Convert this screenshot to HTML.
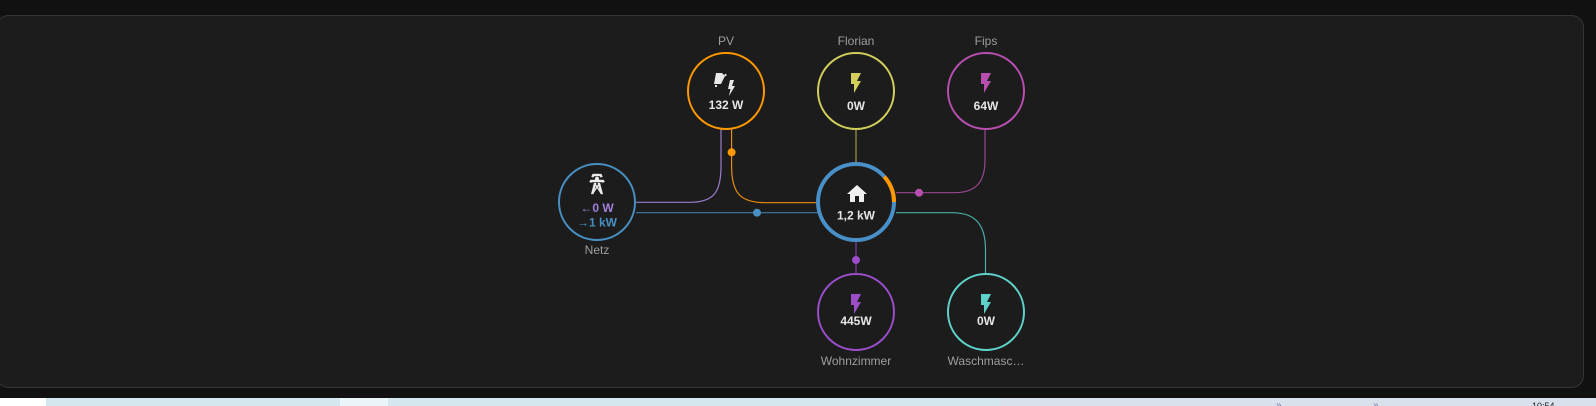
<!DOCTYPE html>
<html>
<head>
<meta charset="utf-8">
<style>
  html,body{margin:0;padding:0;background:#111111;}
  body{width:1596px;height:406px;overflow:hidden;}
  svg{display:block;}
  text{font-family:"Liberation Sans","DejaVu Sans",sans-serif;}
</style>
</head>
<body>
<svg width="1596" height="406" viewBox="0 0 1596 406" xmlns="http://www.w3.org/2000/svg">
  <rect x="0" y="0" width="1596" height="406" fill="#111111"/>
  <!-- card -->
  <rect x="-3.5" y="15.5" width="1587" height="372" rx="12" ry="12" fill="#1c1c1c" stroke="#353535" stroke-width="1"/>

  <!-- bottom strip -->
  <rect x="0" y="398" width="1596" height="8" fill="#d5e7ee"/>
  <rect x="0" y="398" width="46" height="8" fill="#ffffff"/>
  <rect x="340" y="398" width="48" height="8" fill="#eaf5f9"/>
  <rect x="1000" y="398" width="596" height="8" fill="#d9e2ec"/>
  <text x="1276" y="408" font-size="10" fill="#6a6fb0">»</text>
  <text x="1373" y="408" font-size="10" fill="#6a6fb0">»</text>
  <text x="1532" y="409" font-size="9" fill="#222">10:54</text>

  <!-- connector lines -->
  <g fill="none" stroke-width="1.2">
    <!-- PV -> grid (purple) -->
    <path d="M636 202.3 H690 C714 202.3 721 192 721 166 V129" stroke="#9a7ccb"/>
    <!-- PV -> home (orange) -->
    <path d="M731.6 129 V166 C731.6 193 740 202.7 766 202.7 H818" stroke="#e88d0b"/>
    <!-- grid -> home (blue) -->
    <path d="M636 212.7 H818" stroke="#3f7aa5"/>
    <!-- home -> Florian -->
    <path d="M856 129 V162" stroke="#9d9a48"/>
    <!-- home -> Fips -->
    <path d="M896 192.7 H954 C977 192.7 985 181 985 160 V129" stroke="#97468f"/>
    <!-- home -> Waschmasc -->
    <path d="M896 212.7 H952 C976 212.7 985.5 225 985.5 250 V273" stroke="#4aaea6"/>
    <!-- home -> Wohnzimmer -->
    <path d="M856 242 V273" stroke="#7a429d"/>
  </g>

  <!-- flow dots -->
  <circle cx="731.6" cy="152.3" r="4" fill="#ff9800"/>
  <circle cx="757" cy="212.7" r="4" fill="#488fc2"/>
  <circle cx="919" cy="192.7" r="4" fill="#b84fb0"/>
  <circle cx="856" cy="260" r="4" fill="#9b4dca"/>

  <!-- nodes -->
  <g fill="#1c1c1c" stroke-width="2">
    <circle cx="597" cy="202" r="38" stroke="#488fc2"/>
    <circle cx="726" cy="91" r="38" stroke="#ff9800"/>
    <circle cx="856" cy="91" r="38" stroke="#d3cf5a"/>
    <circle cx="986" cy="91" r="38" stroke="#b84fb0"/>
    <circle cx="856" cy="312" r="38" stroke="#9b4dca"/>
    <circle cx="986" cy="312" r="38" stroke="#5ed2c8"/>
  </g>
  <!-- home ring -->
  <circle cx="856" cy="202" r="38" fill="#1c1c1c" stroke="#4a90c8" stroke-width="4"/>
  <path d="M884.2 176.6 A38 38 0 0 1 894 202" fill="none" stroke="#ff9800" stroke-width="4"/>

  <!-- icons -->
  <!-- grid tower -->
  <g transform="translate(585,172)" fill="#ececec" stroke="#ececec" stroke-width="0.4">
    <path d="M8.28,5.45L6.5,4.55L7.76,2H16.23L17.5,4.55L15.72,5.44L15,4H9L8.28,5.45M18.62,8H14.09L13.3,5H10.69L9.91,8H5.38L4.5,9.79L6.28,10.69L6.62,10H17.38L17.72,10.69L19.5,9.79L18.62,8M17.77,22H15.7L15.46,21.1L12,15.9L8.53,21.1L8.3,22H6.23L9.12,11H11.19L10.83,12.35L12,14.1L13.16,12.35L12.81,11H14.88L17.77,22M11.4,15L10.5,13.65L9.32,18.13L11.4,15M14.68,18.12L13.5,13.64L12.6,15L14.68,18.12Z"/>
  </g>
  <!-- PV icon -->
  <g fill="#e8e8e8">
    <polygon points="716,73 722,73 725,76 721,84 714,84"/>
    <rect x="724.5" y="74" width="2" height="2" transform="rotate(45 725.5 75)"/>
    <rect x="715" y="85" width="2" height="2"/>
    <polygon points="730,80 734,80 732,86 735,86 729,96 730.5,89 728,89"/>
  </g>
  <!-- home icon -->
  <g transform="translate(845,182)" fill="#f0f0f0">
    <path d="M10,20V14H14V20H19V12H22L12,3L2,12H5V20H10Z"/>
  </g>
  <!-- bolts -->
  <g transform="translate(844,71)" fill="#d3cf5a"><path d="M7,2V13H10V22L17,10H13L17,2H7Z"/></g>
  <g transform="translate(974,71)" fill="#b84fb0"><path d="M7,2V13H10V22L17,10H13L17,2H7Z"/></g>
  <g transform="translate(844,292)" fill="#9b4dca"><path d="M7,2V13H10V22L17,10H13L17,2H7Z"/></g>
  <g transform="translate(974,292)" fill="#5ed2c8"><path d="M7,2V13H10V22L17,10H13L17,2H7Z"/></g>

  <!-- values -->
  <g font-size="12" font-weight="bold" fill="#e6e6e6" text-anchor="middle">
    <text x="726" y="109">132 W</text>
    <text x="856" y="110">0W</text>
    <text x="986" y="110">64W</text>
    <text x="856" y="219.5">1,2 kW</text>
    <text x="856" y="325">445W</text>
    <text x="986" y="325">0W</text>
  </g>
  <text x="597" y="212" font-size="12" text-anchor="middle"><tspan fill="#a280db" font-weight="normal">←</tspan><tspan fill="#a280db" font-weight="bold">0 W</tspan></text>
  <text x="597" y="226.5" font-size="12" text-anchor="middle"><tspan fill="#488fc2" font-weight="normal">→</tspan><tspan fill="#488fc2" font-weight="bold">1 kW</tspan></text>

  <!-- labels -->
  <g font-size="12" fill="#9e9e9e" text-anchor="middle">
    <text x="726" y="45">PV</text>
    <text x="856" y="45">Florian</text>
    <text x="986" y="45">Fips</text>
    <text x="597" y="254">Netz</text>
    <text x="856" y="365">Wohnzimmer</text>
    <text x="986" y="365">Waschmasc…</text>
  </g>
</svg>
</body>
</html>
